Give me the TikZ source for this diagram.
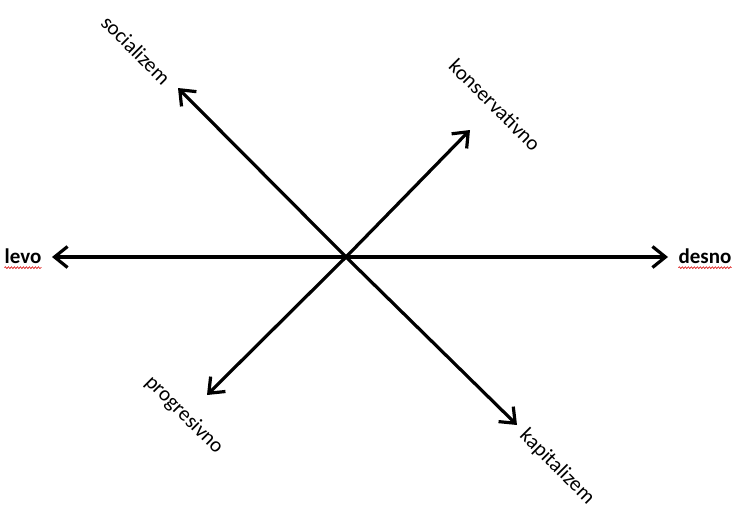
\documentclass[tikz,border=0pt]{standalone}
\usepackage{fontspec}
\setmainfont{Carlito}
\usetikzlibrary{arrows.meta,decorations.pathmorphing}

\begin{document}
\begin{tikzpicture}[x=1pt,y=-1pt,
  axis/.style={draw=black,line width=3.2pt,-{Straight Barb[length=13pt,width=21pt]}},
  lbl/.style={font=\fontsize{21}{25}\selectfont,inner sep=0pt},
  diag/.style={lbl,rotate=-45},
  spell/.style={draw=red!85!black,line width=0.6pt,decorate,
    decoration={snake,amplitude=0.9pt,segment length=3pt}}]
\useasboundingbox (0,0) rectangle (736,512);
% centre and arrow tips:
\coordinate (o) at (346,257);
\coordinate (tipL) at (52,257);
\coordinate (tipR) at (668,257);
\coordinate (tipSoc) at (178,88);
\coordinate (tipKap) at (517,425);
\coordinate (tipKon) at (470,130);
\coordinate (tipPro) at (207,395);
% labels:
\node[lbl,font=\fontsize{21}{25}\selectfont\bfseries] (levo) at (23,256) {levo};
\node[lbl,font=\fontsize{21}{25}\selectfont\bfseries] (desno) at (705,256) {desno};
\node[diag] (soc) at (136,50) {socializem};
\node[diag] (kon) at (495,105) {konservativno};
\node[diag] (pro) at (184,415) {progresivno};
\node[diag] (kap) at (557,467) {kapitalizem};
% arrows:
\draw[axis] (o) -- (tipL);
\draw[axis] (o) -- (tipR);
\draw[axis] (o) -- (tipSoc);
\draw[axis] (o) -- (tipKap);
\draw[axis] (o) -- (tipKon);
\draw[axis] (o) -- (tipPro);
% spell marks:
\draw[spell] ([yshift=-4pt]levo.south west) -- ([yshift=-4pt]levo.south east);
\draw[spell] ([yshift=-4pt]desno.south west) -- ([yshift=-4pt]desno.south east);
\end{tikzpicture}
\end{document}
